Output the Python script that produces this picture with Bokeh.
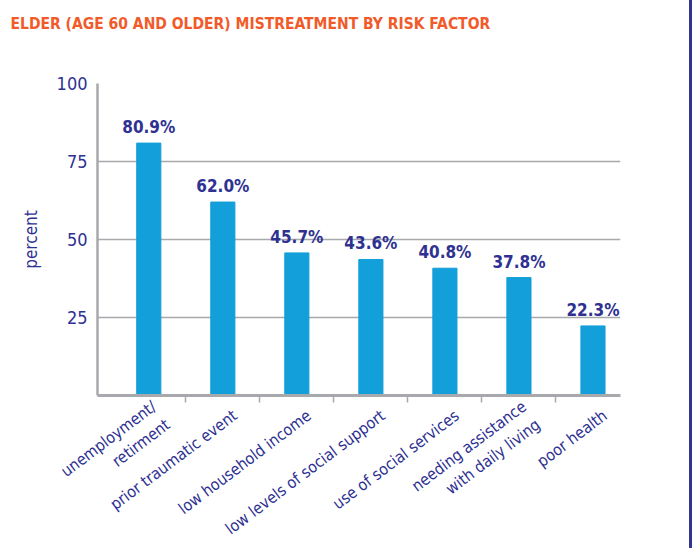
from bokeh.plotting import figure
from bokeh.models import Range1d, FixedTicker, ColumnDataSource
from bokeh.core.properties import value
from bokeh.embed import file_html
from bokeh.resources import INLINE
import math

categories = ["unemployment/\nretirment", "prior traumatic event", "low household income",
              "low levels of social support", "use of social services",
              "needing assistance\nwith daily living", "poor health"]
values = [80.9, 62.0, 45.7, 43.6, 40.8, 37.8, 22.3]
y_ticks = [25, 50, 75, 100]
title_text = "ELDER (AGE 60 AND OLDER) MISTREATMENT BY RISK FACTOR"

NAVY = "#2e3192"
BLUE = "#139fd9"
ORANGE = "#f15a29"
GRAY = "#a7a9ac"
COND = "DejaVu Sans Condensed"

X0, X1 = -0.693, 6.372
xs = list(range(len(categories)))
src = ColumnDataSource(dict(x=xs, top=values, label=[f"{v:.1f}%" for v in values]))

p = figure(width=692, height=548, output_backend="svg", toolbar_location=None,
           x_range=Range1d(X0, X1), y_range=Range1d(0, 100),
           min_border_left=97, min_border_right=72, min_border_top=83, min_border_bottom=153)
p.styles = {"border-right": "3px solid #33348e"}
p.outline_line_color = None
p.background_fill_color = "white"
p.border_fill_color = "white"

# trailing blank lines reserve room so the title sits near the top of the page
p.title.text = title_text + "\n\n"
p.title.align = "left"
p.title.offset = -87
p.title.vertical_align = "top"
p.title.standoff = 26
p.title.text_color = ORANGE
p.title.text_font = COND
p.title.text_font_style = "bold"
p.title.text_font_size = "15.5px"

p.vbar(x="x", top="top", width=0.326, source=src, color=BLUE)
p.text(x="x", y="top", text="label", source=src, y_offset=-6,
       text_align="center", text_baseline="bottom", text_color=NAVY,
       text_font=value(COND), text_font_style="bold", text_font_size="17px")

# axes
p.xgrid.visible = False
p.ygrid.ticker = FixedTicker(ticks=y_ticks)
p.ygrid.grid_line_color = GRAY
p.ygrid.grid_line_width = 1.5

ya = p.yaxis[0]
ya.ticker = FixedTicker(ticks=y_ticks)
ya.axis_line_color = GRAY
ya.axis_line_width = 2.5
ya.major_tick_line_color = None
ya.minor_tick_line_color = None
ya.major_tick_out = 0
ya.major_tick_in = 0
ya.major_label_standoff = 10
ya.major_label_text_color = NAVY
ya.major_label_text_font = COND
ya.major_label_text_font_size = "18px"
ya.axis_label = "percent"
ya.axis_label_text_color = NAVY
ya.axis_label_text_font = COND
ya.axis_label_text_font_style = "normal"
ya.axis_label_text_font_size = "17px"
ya.axis_label_standoff = 13

label_shift = 0.165
xa = p.xaxis[0]
xa.ticker = FixedTicker(ticks=[i + label_shift for i in xs],
                        minor_ticks=[i + 0.5 for i in xs[:-1]])
xa.major_label_overrides = {i + label_shift: c for i, c in enumerate(categories)}
xa.axis_line_color = GRAY
xa.axis_line_width = 3
xa.major_tick_line_color = None
xa.major_tick_out = 0
xa.major_tick_in = 0
xa.minor_tick_line_color = GRAY
xa.minor_tick_line_width = 1.5
xa.minor_tick_out = 7
xa.minor_tick_in = 0
xa.major_label_orientation = math.radians(37)
xa.major_label_standoff = 11
xa.major_label_text_color = NAVY
xa.major_label_text_font = COND
xa.major_label_text_font_size = "16px"

open("out.html", "w").write(file_html(p, INLINE))
